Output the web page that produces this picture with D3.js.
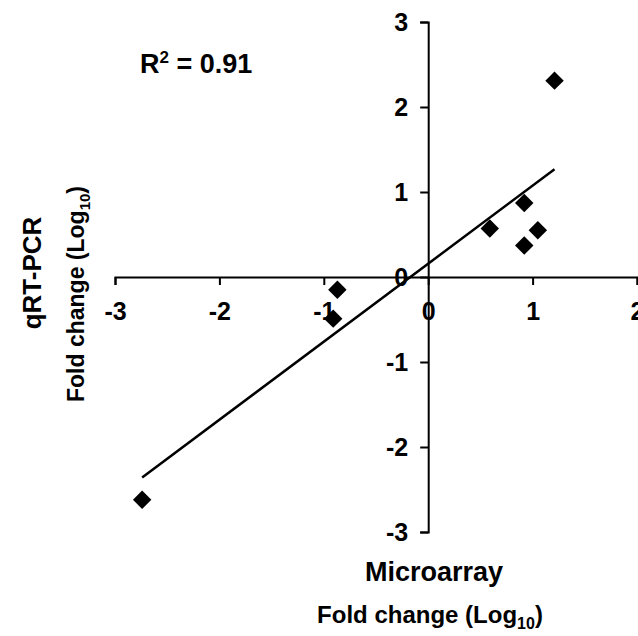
<!DOCTYPE html>
<html>
<head>
<meta charset="utf-8">
<script src="https://cdn.jsdelivr.net/npm/d3@7"></script>
<style>
  body { margin: 0; background: #fff; }
  svg text { font-family: "Liberation Sans", Arial, sans-serif; font-weight: bold; fill: #000; }
</style>
</head>
<body>
<svg id="chart"></svg>
<script>
// log10 fold changes, one entry per gene
const microarray = [1.21, 0.92, 1.05, 0.92, 0.59, -0.87, -0.91, -2.74];
const qrtpcr     = [2.31, 0.87, 0.55, 0.37, 0.57, -0.15, -0.49, -2.62];
const xTicks = [-3, -2, -1, 0, 1, 2];
const yTicks = [-3, -2, -1, 0, 1, 2, 3];
const r2Text = "0.91";

const width = 638, height = 636;

let svg = d3.select("#chart")
  .attr("width", width)
  .attr("height", height)
  .attr("viewBox", [0, 0, width, height]);

let x = d3.scaleLinear().domain([-3, 2]).range([115, 637]);
let y = d3.scaleLinear().domain([-3, 3]).range([532, 22]);

// plain hyphen for negatives, like the original
let fmt = (d) => String(d);

// Axes cross at the origin.
let xAxis = svg.append("g")
  .attr("transform", "translate(0," + y(0) + ")")
  .call(d3.axisBottom(x).tickValues(xTicks).tickSize(8).tickPadding(17).tickFormat(fmt));

let yAxis = svg.append("g")
  .attr("transform", "translate(" + x(0) + ",0)")
  .call(d3.axisLeft(y).tickValues(yTicks).tickSize(8).tickPadding(12).tickFormat(fmt));

[xAxis, yAxis].forEach(function(g) {
  g.attr("font-family", null).attr("font-size", null);
  g.selectAll("path, line").attr("stroke", "#000").attr("stroke-width", 2);
  g.selectAll("text").style("font-size", "25px");
});

// Least-squares fit.
let n = microarray.length;
let mx = d3.mean(microarray), my = d3.mean(qrtpcr);
let sxy = 0, sxx = 0;
for (let i = 0; i < n; i++) {
  sxy += (microarray[i] - mx) * (qrtpcr[i] - my);
  sxx += (microarray[i] - mx) * (microarray[i] - mx);
}
let slope = sxy / sxx;
let intercept = my - slope * mx;
let [x0, x1] = d3.extent(microarray);

svg.append("line")
  .attr("x1", x(x0)).attr("y1", y(intercept + slope * x0))
  .attr("x2", x(x1)).attr("y2", y(intercept + slope * x1))
  .attr("stroke", "#000")
  .attr("stroke-width", 2.5);

// Diamond markers.
let diamond = d3.symbol().type(d3.symbolSquare).size(170);
svg.append("g").selectAll("path")
  .data(microarray)
  .join("path")
  .attr("d", diamond)
  .attr("transform", (d, i) => "translate(" + x(d) + "," + y(qrtpcr[i]) + ") rotate(45)")
  .attr("fill", "#000");

// R squared label.
let r2 = svg.append("text").attr("x", 140).attr("y", 73).style("font-size", "27px");
r2.append("tspan").text("R");
r2.append("tspan").attr("dy", -10).style("font-size", "17px").text("2");
r2.append("tspan").attr("dy", 10).text(" = " + r2Text);

// Bottom titles.
svg.append("text")
  .attr("x", 434).attr("y", 581)
  .attr("text-anchor", "middle")
  .style("font-size", "27px")
  .text("Microarray");

let bx = svg.append("text")
  .attr("x", 430).attr("y", 623)
  .attr("text-anchor", "middle")
  .style("font-size", "24px");
bx.append("tspan").text("Fold change (Log");
bx.append("tspan").attr("dy", 6).style("font-size", "16px").text("10");
bx.append("tspan").attr("dy", -6).text(")");

// Left titles, rotated.
svg.append("text")
  .attr("transform", "translate(41,273) rotate(-90)")
  .attr("text-anchor", "middle")
  .style("font-size", "26px")
  .text("qRT-PCR");

let ly = svg.append("text")
  .attr("transform", "translate(84,294) rotate(-90)")
  .attr("text-anchor", "middle")
  .style("font-size", "23px");
ly.append("tspan").text("Fold change (Log");
ly.append("tspan").attr("dy", 6).style("font-size", "15px").text("10");
ly.append("tspan").attr("dy", -6).text(")");
</script>
</body>
</html>
